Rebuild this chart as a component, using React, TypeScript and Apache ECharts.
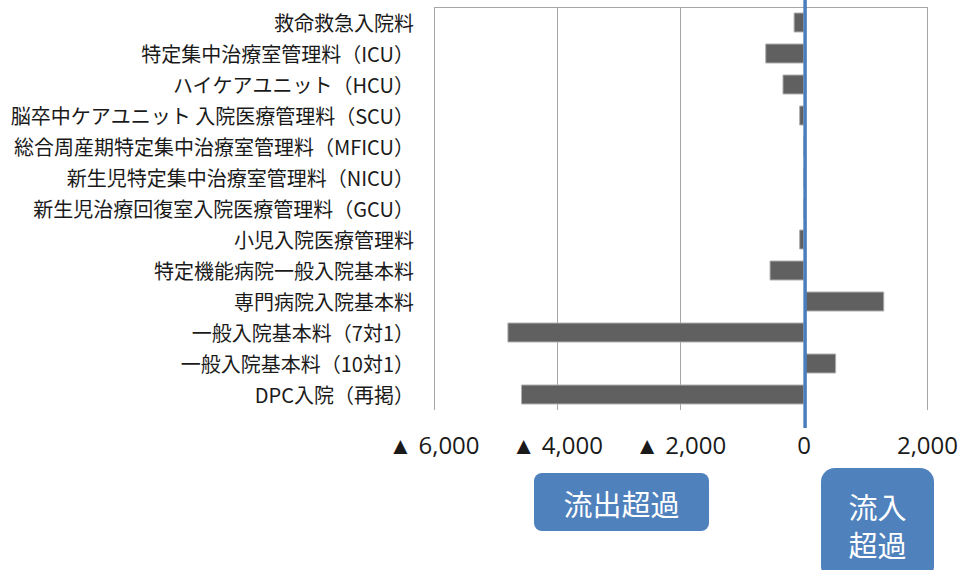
import React, { useEffect, useRef } from "react";
import * as echarts from "echarts";

const categories = [
  "救命救急入院料",
  "特定集中治療室管理料（ICU）",
  "ハイケアユニット（HCU）",
  "脳卒中ケアユニット 入院医療管理料（SCU）",
  "総合周産期特定集中治療室管理料（MFICU）",
  "新生児特定集中治療室管理料（NICU）",
  "新生児治療回復室入院医療管理料（GCU）",
  "小児入院医療管理料",
  "特定機能病院一般入院基本料",
  "専門病院入院基本料",
  "一般入院基本料（7対1）",
  "一般入院基本料（10対1）",
  "DPC入院（再掲）",
];

const values = [-170, -630, -350, -80, 0, 0, 0, -80, -560, 1300, -4810, 520, -4590];

const xMin = -6000;
const xMax = 2000;
const xInterval = 2000;

const outflowLabel = "流出超過";
const inflowLines = ["流入", "超過"];

function fmt(v: number): string {
  const s = Math.abs(v).toLocaleString("en-US");
  return v < 0 ? "▲ " + s : s;
}

export default function App() {
  const ref = useRef<HTMLDivElement>(null);
  useEffect(() => {
    document.body.style.margin = "0";
    if (!ref.current) return;
    const chart = echarts.init(ref.current, undefined, { renderer: "svg" });
    chart.setOption({
      animation: false,
      grid: { left: 434, right: 33, top: 7, bottom: 160, containLabel: false },
      xAxis: {
        type: "value",
        min: xMin,
        max: xMax,
        interval: xInterval,
        axisLine: { show: false },
        axisTick: { show: false },
        splitLine: { show: true, lineStyle: { color: "#a6a6a6", width: 1 } },
        axisLabel: {
          formatter: fmt,
          color: "#1a1a1a",
          fontSize: 24,
          fontFamily: "Open Sans",
          margin: 22,
        },
      },
      yAxis: {
        type: "category",
        inverse: true,
        data: categories,
        axisLine: { show: false },
        axisTick: { show: false },
        splitLine: { show: false },
        axisLabel: {
          color: "#1a1a1a",
          fontSize: 20,
          fontFamily: "Noto Sans CJK JP",
          margin: 20,
        },
      },
      series: [
        {
          type: "bar",
          data: values,
          barWidth: 20,
          itemStyle: { color: "#606060", borderColor: "#b0b0b0", borderWidth: 1 },
        },
      ],
    });
    const x0 = chart.convertToPixel({ xAxisIndex: 0 }, 0) as number;
    const xL = chart.convertToPixel({ xAxisIndex: 0 }, xMin) as number;
    const xR = chart.convertToPixel({ xAxisIndex: 0 }, xMax) as number;
    const boxText = {
      fill: "#ffffff",
      fontSize: 29,
      lineHeight: 32,
      fontFamily: "Noto Sans CJK JP",
      align: "center",
      verticalAlign: "middle",
    };
    chart.setOption({
      graphic: [
        {
          type: "line",
          shape: { x1: xL, y1: 7.5, x2: xR, y2: 7.5 },
          style: { stroke: "#a6a6a6", lineWidth: 1 },
          z: 5,
        },
        {
          type: "line",
          shape: { x1: x0 + 1, y1: 0, x2: x0 + 1, y2: 428 },
          style: { stroke: "#4a7ebb", lineWidth: 3.5 },
          z: 10,
        },
        {
          type: "rect",
          shape: { x: 534, y: 473, width: 175, height: 58, r: 8 },
          style: { fill: "#4f81bd" },
        },
        {
          type: "text",
          x: 621.5,
          y: 503,
          style: { ...boxText, text: outflowLabel },
        },
        {
          type: "rect",
          shape: { x: 821, y: 468, width: 113, height: 112, r: 14 },
          style: { fill: "#4f81bd" },
        },
        {
          type: "text",
          x: 877.5,
          y: 506,
          style: { ...boxText, text: inflowLines[0] },
        },
        {
          type: "text",
          x: 877.5,
          y: 544,
          style: { ...boxText, text: inflowLines[1] },
        },
      ],
    });
    return () => chart.dispose();
  }, []);
  return <div ref={ref} style={{ width: 961, height: 570 }} />;
}
